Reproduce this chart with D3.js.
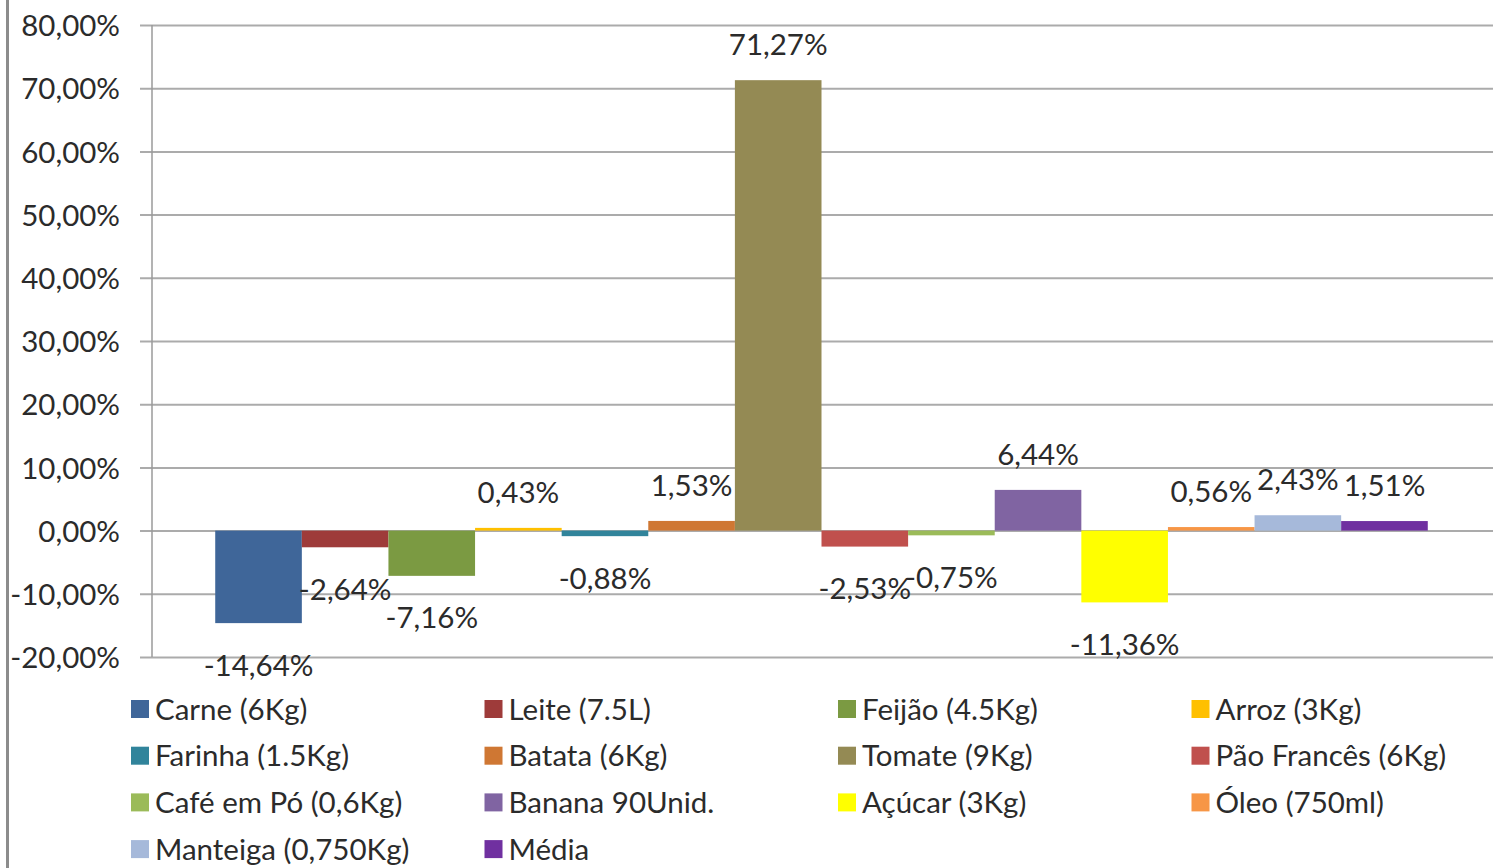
<!DOCTYPE html>
<html>
<head>
<meta charset="utf-8">
<script src="https://cdn.jsdelivr.net/npm/d3@7"></script>
<style>
  html, body { margin: 0; padding: 0; background: #fff; }
  svg { display: block; }
  text { font-family: Lato, "Open Sans", sans-serif; fill: #2b2b2b; }
</style>
</head>
<body>
<svg id="chart" width="1501" height="868"></svg>
<script>
const series = ["Carne (6Kg)", "Leite (7.5L)", "Feijão (4.5Kg)", "Arroz (3Kg)",
  "Farinha (1.5Kg)", "Batata (6Kg)", "Tomate (9Kg)", "Pão Francês (6Kg)",
  "Café em Pó (0,6Kg)", "Banana 90Unid.", "Açúcar (3Kg)", "Óleo (750ml)",
  "Manteiga (0,750Kg)", "Média"];
const values = [-14.64, -2.64, -7.16, 0.43, -0.88, 1.53, 71.27, -2.53, -0.75, 6.44, -11.36, 0.56, 2.43, 1.51];
const colors = ["#3F6699", "#9E3B3A", "#7B9A42", "#FFC000", "#31849B", "#CF7733",
  "#948A54", "#C0504D", "#9BBB59", "#8064A2", "#FFFF00", "#F79646", "#A6B9DA", "#7030A0"];
const yTicks = [-20, -10, 0, 10, 20, 30, 40, 50, 60, 70, 80];

const fmt = v => v.toFixed(2).replace(".", ",") + "%";

const svg = d3.select("#chart");
const plot = { left: 152, right: 1493, top: 25, bottom: 657 };

// outer chart border (left edge)
svg.append("line").attr("x1", 7.5).attr("x2", 7.5).attr("y1", 0).attr("y2", 868)
  .attr("stroke", "#8c8c8c").attr("stroke-width", 3);

const y = d3.scaleLinear().domain([-20, 80]).range([plot.bottom, plot.top]);
const x = d3.scaleBand().domain(series).range([plot.left, plot.right - 2])
  .paddingInner(0).paddingOuter(0.73);

// gridlines with tick marks
const yAxis = d3.axisLeft(y).tickValues(yTicks).tickFormat(d => d.toFixed(2).replace(".", ",") + "%")
  .tickSize(-(plot.right - plot.left)).tickPadding(32);
const gy = svg.append("g").attr("transform", `translate(${plot.left},0)`).call(yAxis);
gy.select(".domain").remove();
gy.selectAll(".tick line").attr("stroke", "#ababab").attr("stroke-width", 2).attr("x1", -12);
gy.selectAll(".tick text").attr("font-size", 29.5).attr("fill", "#2b2b2b")
  .attr("font-family", "Lato, sans-serif").attr("dy", "0.36em");

// vertical axis line
svg.append("line").attr("x1", plot.left).attr("x2", plot.left)
  .attr("y1", plot.top).attr("y2", plot.bottom)
  .attr("stroke", "#9a9a9a").attr("stroke-width", 1.5);

// bars
svg.append("g").selectAll("rect").data(series).join("rect")
  .attr("x", d => x(d))
  .attr("width", x.bandwidth())
  .attr("y", (d, i) => y(Math.max(0, values[i])))
  .attr("height", (d, i) => Math.abs(y(values[i]) - y(0)))
  .attr("fill", (d, i) => colors[i]);

// data labels
svg.append("g").selectAll("text").data(series).join("text")
  .attr("x", d => x(d) + x.bandwidth() / 2)
  .attr("y", (d, i) => values[i] >= 0 ? y(values[i]) - 36 : y(values[i]) + 42)
  .attr("dy", "0.36em")
  .attr("text-anchor", "middle")
  .attr("font-size", 29.5)
  .text((d, i) => fmt(values[i]));

// legend
const legend = svg.append("g");
const colW = 353.5, rowH = 46.7, lx0 = 131, ly0 = 709;
series.forEach((s, i) => {
  const col = i % 4, row = Math.floor(i / 4);
  const g = legend.append("g").attr("transform", `translate(${lx0 + col * colW},${ly0 + row * rowH})`);
  g.append("rect").attr("x", 0).attr("y", -9).attr("width", 18).attr("height", 18).attr("fill", colors[i]);
  g.append("text").attr("x", 24).attr("y", 0).attr("dy", "0.36em").attr("font-size", 29.5).text(s);
});
</script>
</body>
</html>
